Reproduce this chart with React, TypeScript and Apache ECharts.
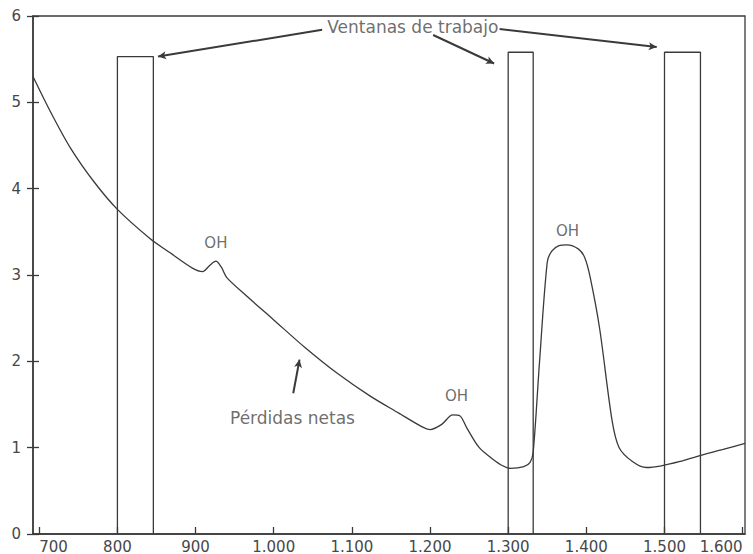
import React, { useEffect, useRef } from "react";
import * as echarts from "echarts";

// Attenuation of silica fibre (dB/km) against wavelength (nm)
const wavelength = [692, 715, 740, 770, 800, 842, 867, 896, 909, 918, 926, 933, 940, 965, 1000, 1040, 1080, 1123, 1160, 1190, 1200, 1215, 1229, 1238, 1247, 1263, 1280, 1293, 1303, 1320, 1328, 1332, 1340, 1350, 1356, 1365, 1375, 1390, 1398, 1405, 1417, 1433, 1442, 1459, 1477, 1496, 1520, 1542, 1575, 1603];
const loss = [5.3, 4.88, 4.47, 4.08, 3.76, 3.42, 3.26, 3.08, 3.04, 3.11, 3.16, 3.09, 2.97, 2.76, 2.48, 2.16, 1.87, 1.6, 1.4, 1.24, 1.21, 1.27, 1.38, 1.37, 1.23, 1.0, 0.87, 0.79, 0.76, 0.78, 0.83, 0.95, 1.98, 3.15, 3.28, 3.34, 3.35, 3.3, 3.2, 2.97, 2.38, 1.31, 1.0, 0.84, 0.77, 0.79, 0.84, 0.9, 0.98, 1.05];

// Working windows
const windowStart = [800, 1300, 1500];
const windowEnd = [846, 1332, 1546];
const windowTop = [5.53, 5.58, 5.58];

const xTicks = [700, 800, 900, 1000, 1100, 1200, 1300, 1400, 1500, 1600];
const yTicks = [0, 1, 2, 3, 4, 5, 6];

// Annotation texts
const noteX = [926, 1234, 1376, 1024, 1178];
const noteY = [3.37, 1.6, 3.51, 1.34, 5.87];
const noteText = ["OH", "OH", "OH", "Pérdidas netas", "Ventanas de trabajo"];
const noteSize = [15, 15, 15, 17, 17];

// Pointer lines
const pointerFromX = [1062, 1204, 1289, 1025];
const pointerFromY = [5.84, 5.78, 5.85, 1.63];
const pointerToX = [852, 1282, 1490, 1033];
const pointerToY = [5.53, 5.45, 5.64, 2.02];

const INK = "#3a3a3a";
const TEXT = "#474747";
const FONT = "'DejaVu Sans', 'Liberation Sans', sans-serif";

export default function App() {
  const ref = useRef<HTMLDivElement>(null);

  useEffect(() => {
    if (!ref.current) return;
    const chart = echarts.init(ref.current, null, { renderer: "svg" });

    const fmt = (v: number) => {
      const s = String(Math.round(v));
      return s.length > 3 ? s.slice(0, s.length - 3) + "." + s.slice(-3) : s;
    };

    const windows = windowStart.map((s, i) => ({
      type: "line",
      data: [
        [s, 0],
        [s, windowTop[i]],
        [windowEnd[i], windowTop[i]],
        [windowEnd[i], 0],
      ],
      showSymbol: false,
      lineStyle: { color: INK, width: 1.3 },
      silent: true,
      z: 3,
    }));

    chart.setOption({
      animation: false,
      backgroundColor: "#ffffff",
      grid: {
        left: 33,
        right: 8,
        top: 16,
        bottom: 20,
        show: true,
        borderColor: INK,
        borderWidth: 1.3,
        outerBoundsMode: "none",
        containLabel: false,
      },
      xAxis: {
        type: "value",
        min: 692,
        max: 1603,
        splitLine: { show: false },
        axisLine: { lineStyle: { color: INK, width: 1.5 } },
        axisTick: {
          inside: true,
          length: 7,
          customValues: xTicks,
          lineStyle: { color: INK, width: 1.3 },
        },
        axisLabel: {
          customValues: xTicks,
          formatter: fmt,
          color: TEXT,
          fontSize: 15,
          fontFamily: FONT,
          margin: 5,
          alignMinLabel: "left",
          alignMaxLabel: "right",
          hideOverlap: false,
        },
      },
      yAxis: [
        {
          type: "value",
          min: 0,
          max: 6,
          interval: 1,
          splitLine: { show: false },
          axisLine: { lineStyle: { color: INK, width: 1.5 } },
          axisTick: { inside: true, length: 6, lineStyle: { color: INK, width: 1.3 } },
          axisLabel: {
            color: TEXT,
            fontSize: 15,
            fontFamily: FONT,
            margin: 12,
            customValues: yTicks,
          },
        },
        {
          type: "value",
          position: "left",
          offset: 0,
          min: 0,
          max: 6,
          interval: 1,
          splitLine: { show: false },
          axisLine: { show: false },
          axisTick: { length: 6, lineStyle: { color: INK, width: 1.3 } },
          axisLabel: { show: false },
        },
      ],
      series: [
        {
          type: "line",
          data: wavelength.map((w, i) => [w, loss[i]]),
          smooth: 0.3,
          showSymbol: false,
          lineStyle: { color: INK, width: 1.3 },
          silent: true,
          z: 4,
          markLine: {
            silent: true,
            symbol: ["none", "arrow"],
            symbolSize: [6, 8],
            label: { show: false },
            lineStyle: { color: INK, width: 2, type: "solid" },
            data: pointerFromX.map((fx, i) => [
              { coord: [fx, pointerFromY[i]] },
              { coord: [pointerToX[i], pointerToY[i]] },
            ]),
          },
        },
        ...windows,
        {
          type: "scatter",
          data: noteX.map((x, i) => ({
            value: [x, noteY[i]],
            label: { formatter: noteText[i], fontSize: noteSize[i] },
          })),
          symbolSize: 0,
          silent: true,
          label: {
            show: true,
            position: "inside",
            color: TEXT,
            fontFamily: FONT,
          },
          z: 6,
        },
      ],
    });

    return () => chart.dispose();
  }, []);

  return (
    <div
      ref={ref}
      style={{ position: "fixed", left: 0, top: 0, width: 753, height: 554, background: "#fff" }}
    />
  );
}
